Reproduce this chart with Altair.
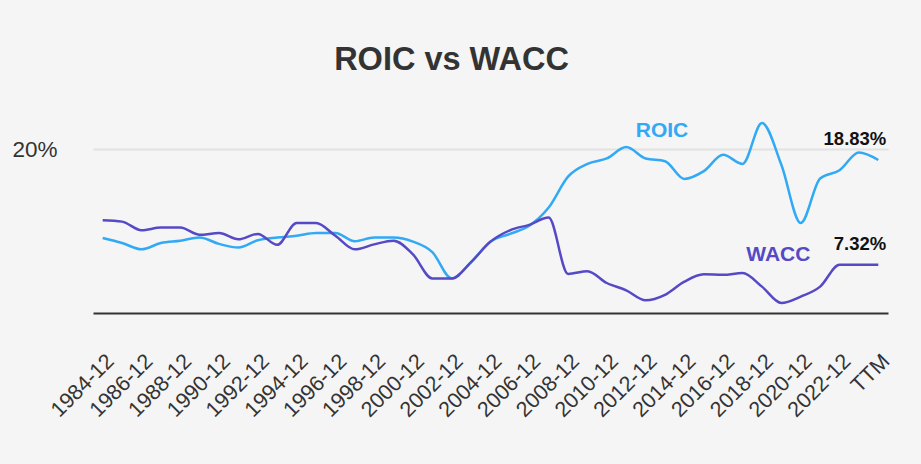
import altair as alt
import pandas as pd

CATEGORIES = [f"{y}-12" for y in range(1984, 2024)] + ["TTM"]

ROIC = [10.25, 9.7, 9.0, 9.7, 9.95, 10.3, 9.6, 9.2, 10.0, 10.3,
        10.5, 10.8, 10.8, 9.9, 10.3, 10.3, 9.85, 8.7, 5.8, 7.6,
        9.85, 10.7, 11.6, 13.6, 17.0, 18.4, 19.0, 20.25, 19.0, 18.7,
        16.75, 17.6, 19.4, 18.4, 22.9, 18.3, 11.9, 16.8, 17.7, 19.65,
        18.83]
WACC = [12.2, 12.05, 11.1, 11.4, 11.4, 10.6, 10.8, 10.1, 10.7, 9.5,
        11.9, 11.9, 10.5, 9.0, 9.55, 9.95, 8.45, 5.8, 5.8, 7.6,
        9.85, 11.1, 11.7, 12.5, 6.3, 6.6, 5.3, 4.5, 3.4, 4.0,
        5.45, 6.25, 6.2, 6.4, 4.9, 3.1, 3.8, 4.9, 7.3, 7.3,
        7.32]

SERIES = ["ROIC", "WACC"]
COLORS = ["#31A9F5", "#5549C6"]
NAME_LABEL_CATS = ["2013-12", "2019-12"]
NAME_LABEL_VALUES = [22.07, 8.38]

FONT = "Liberation Sans"

rows = []
for name, vals in zip(SERIES, [ROIC, WACC]):
    for c, v in zip(CATEGORIES, vals):
        rows.append({"cat": c, "metric": name, "value": v})
df = pd.DataFrame(rows)

ends = pd.DataFrame({
    "cat": [CATEGORIES[-1]] * 2,
    "metric": SERIES,
    "value": [ROIC[-1], WACC[-1]],
    "label": [f"{ROIC[-1]:.2f}%", f"{WACC[-1]:.2f}%"],
})
names = pd.DataFrame({"cat": NAME_LABEL_CATS, "metric": SERIES, "value": NAME_LABEL_VALUES})

x_enc = alt.X("cat:N", sort=CATEGORIES,
              scale=alt.Scale(type="point", padding=0.5, domain=CATEGORIES),
              axis=alt.Axis(values=CATEGORIES[::2], labelAngle=-45, labelFontSize=21.5,
                            labelFont=FONT, labelColor="#333333", ticks=False, grid=False,
                            domainColor="#333333", domainWidth=2, labelPadding=37,
                            labelOverlap=False, labelBound=False, title=None))
y_enc = alt.Y("value:Q", scale=alt.Scale(domain=[2, 24], nice=False, zero=False),
              axis=alt.Axis(values=[20], labelExpr="datum.value + '%'", labelFontSize=22.5,
                            labelFont=FONT, labelColor="#333333", grid=True,
                            gridColor="#e2e2e2", gridWidth=2, domain=False, ticks=False,
                            labelPadding=36, title=None))
color_enc = alt.Color("metric:N", scale=alt.Scale(domain=SERIES, range=COLORS), legend=None)

lines = alt.Chart(df).mark_line(interpolate="monotone", strokeWidth=2.5).encode(
    x=x_enc, y=y_enc, color=color_enc)

name_text = alt.Chart(names).mark_text(font=FONT, fontSize=21, fontWeight="bold",
                                       align="center", baseline="middle", dx=-3).encode(
    x=alt.X("cat:N", sort=CATEGORIES), y="value:Q", color=color_enc, text="metric:N")

end_text = alt.Chart(ends).mark_text(font=FONT, fontSize=18.5, fontWeight="bold",
                                     align="right", baseline="middle", dx=8, dy=-21,
                                     color="#111111").encode(
    x=alt.X("cat:N", sort=CATEGORIES), y="value:Q", text="label:N")

chart = alt.layer(lines, name_text, end_text).properties(
    width=795, height=200,
    padding={"left": 93, "top": 113, "right": 33, "bottom": 151},
    autosize="none",
    background="#f5f5f5",
    title=alt.TitleParams("ROIC vs WACC", font=FONT, fontSize=32.5, fontWeight="bold",
                          color="#333333", anchor="middle", dx=-39, offset=11,
                          baseline="alphabetic"),
).configure_view(stroke=None)

chart.save("out.html", embed_options={"renderer": "svg", "actions": False})
